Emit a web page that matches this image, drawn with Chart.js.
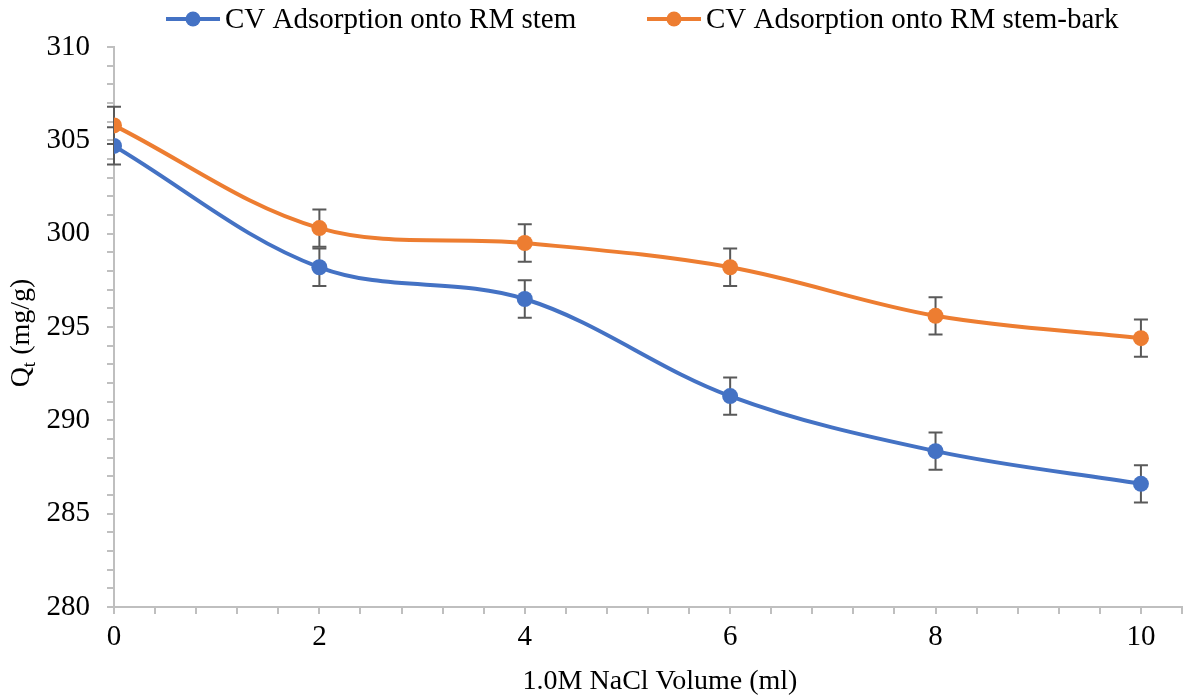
<!DOCTYPE html>
<html>
<head>
<meta charset="utf-8">
<script src="https://cdn.jsdelivr.net/npm/chart.js@4/dist/chart.umd.min.js"></script>
<style>
  html, body { margin: 0; padding: 0; background: #fff; }
  #wrap { width: 1190px; height: 697px; }
</style>
</head>
<body>
<div id="wrap"><canvas id="qtChart" width="1190" height="697"></canvas></div>
<script>
const volumes = [0, 2, 4, 6, 8, 10];
const stemQt = [304.7, 298.2, 296.5, 291.3, 288.35, 286.6];
const barkQt = [305.8, 300.3, 299.5, 298.2, 295.6, 294.4];
const stemErr = [1, 1, 1, 1, 1, 1];
const barkErr = [1, 1, 1, 1, 1, 1];
const seriesNames = ["CV Adsorption onto RM stem", "CV Adsorption onto RM stem-bark"];
const xTitle = "1.0M NaCl Volume (ml)";

const serif = "'Liberation Serif', 'Times New Roman', serif";
const blue = "#4472C4";
const orange = "#ED7D31";
const axisGrey = "#BFBFBF";

const toPoints = (ys) => volumes.map((v, i) => ({ x: v, y: ys[i] }));

// error bars behind the markers
const errorBars = {
  id: "errorBars",
  beforeDatasetsDraw(chart) {
    const { ctx, scales } = chart;
    const errs = [stemErr, barkErr];
    ctx.save();
    ctx.strokeStyle = "#595959";
    ctx.lineWidth = 2;
    chart.data.datasets.forEach((ds, d) => {
      ds.data.forEach((p, i) => {
        const x = scales.x.getPixelForValue(p.x);
        const top = scales.y.getPixelForValue(p.y + errs[d][i]);
        const bot = scales.y.getPixelForValue(p.y - errs[d][i]);
        ctx.beginPath();
        ctx.moveTo(x, top); ctx.lineTo(x, bot);
        ctx.moveTo(x - 7, top); ctx.lineTo(x + 7, top);
        ctx.moveTo(x - 7, bot); ctx.lineTo(x + 7, bot);
        ctx.stroke();
      });
    });
    ctx.restore();
  }
};

// legend and axis titles
const labelsPlugin = {
  id: "labelsPlugin",
  afterDraw(chart) {
    const { ctx } = chart;
    ctx.save();
    ctx.fillStyle = "#000";
    ctx.textBaseline = "middle";
    ctx.font = "29px " + serif;

    const items = [
      { x: 166, color: blue, text: seriesNames[0] },
      { x: 647, color: orange, text: seriesNames[1] }
    ];
    items.forEach((it) => {
      ctx.strokeStyle = it.color;
      ctx.lineWidth = 4;
      ctx.beginPath();
      ctx.moveTo(it.x, 19); ctx.lineTo(it.x + 54, 19);
      ctx.stroke();
      ctx.fillStyle = it.color;
      ctx.beginPath();
      ctx.arc(it.x + 27, 19, 7.5, 0, Math.PI * 2);
      ctx.fill();
      ctx.fillStyle = "#000";
      ctx.textAlign = "left";
      ctx.fillText(it.text, it.x + 59, 20);
    });

    // x title
    ctx.textAlign = "center";
    ctx.font = "28px " + serif;
    ctx.fillText(xTitle, 660, 682);

    // y title with subscript t
    const big = "28px " + serif;
    const small = "19px " + serif;
    ctx.font = big;
    const wQ = ctx.measureText("Q").width;
    const wRest = ctx.measureText(" (mg/g)").width;
    ctx.font = small;
    const wT = ctx.measureText("t").width;
    const total = wQ + wT + wRest;
    ctx.translate(22, 333);
    ctx.rotate(-Math.PI / 2);
    ctx.textAlign = "left";
    let pos = -total / 2;
    ctx.font = big;
    ctx.fillText("Q", pos, 0);
    pos += wQ;
    ctx.font = small;
    ctx.fillText("t", pos, 8);
    pos += wT;
    ctx.font = big;
    ctx.fillText(" (mg/g)", pos, 0);
    ctx.restore();
  }
};

const isMultiple = (v, m) => Math.abs(v / m - Math.round(v / m)) < 1e-6;

new Chart(document.getElementById("qtChart").getContext("2d"), {
  type: "line",
  data: {
    datasets: [
      {
        label: seriesNames[0],
        data: toPoints(stemQt),
        borderColor: blue,
        backgroundColor: blue,
        borderWidth: 4,
        pointRadius: 8,
        pointHoverRadius: 8,
        pointBorderWidth: 0,
        tension: 0.35
      },
      {
        label: seriesNames[1],
        data: toPoints(barkQt),
        borderColor: orange,
        backgroundColor: orange,
        borderWidth: 4,
        pointRadius: 8,
        pointHoverRadius: 8,
        pointBorderWidth: 0,
        tension: 0.35
      }
    ]
  },
  options: {
    responsive: false,
    animation: false,
    layout: { padding: { top: 47, right: 5, left: 0, bottom: 0 } },
    plugins: {
      legend: { display: false },
      tooltip: { enabled: false }
    },
    scales: {
      x: {
        type: "linear",
        min: 0,
        max: 10.4,
        afterFit: (s) => { s.height = 90; },
        afterBuildTicks: (s) => {
          const t = [];
          for (let i = 0; i <= 26; i++) t.push({ value: Math.round(i * 0.4 * 10) / 10 });
          s.ticks = t;
        },
        ticks: {
          autoSkip: false,
          maxRotation: 0,
          padding: 6,
          color: "#000",
          font: { family: serif, size: 29 },
          callback: (v) => (isMultiple(v, 2) ? String(Math.round(v)) : "")
        },
        grid: {
          drawOnChartArea: false,
          drawTicks: true,
          tickLength: 7,
          color: axisGrey,
          lineWidth: 2
        },
        border: { color: axisGrey, width: 2 }
      },
      y: {
        min: 280,
        max: 310,
        afterFit: (s) => { s.width = 114; },
        afterBuildTicks: (s) => {
          const t = [];
          for (let v = 280; v <= 310; v++) t.push({ value: v });
          s.ticks = t;
        },
        ticks: {
          autoSkip: false,
          padding: 17,
          color: "#000",
          font: { family: serif, size: 29 },
          callback: (v) => (isMultiple(v, 5) ? String(v) : "")
        },
        grid: {
          drawOnChartArea: false,
          drawTicks: true,
          tickLength: 7,
          color: axisGrey,
          lineWidth: 2
        },
        border: { color: axisGrey, width: 2 }
      }
    }
  },
  plugins: [errorBars, labelsPlugin]
});
</script>
</body>
</html>
